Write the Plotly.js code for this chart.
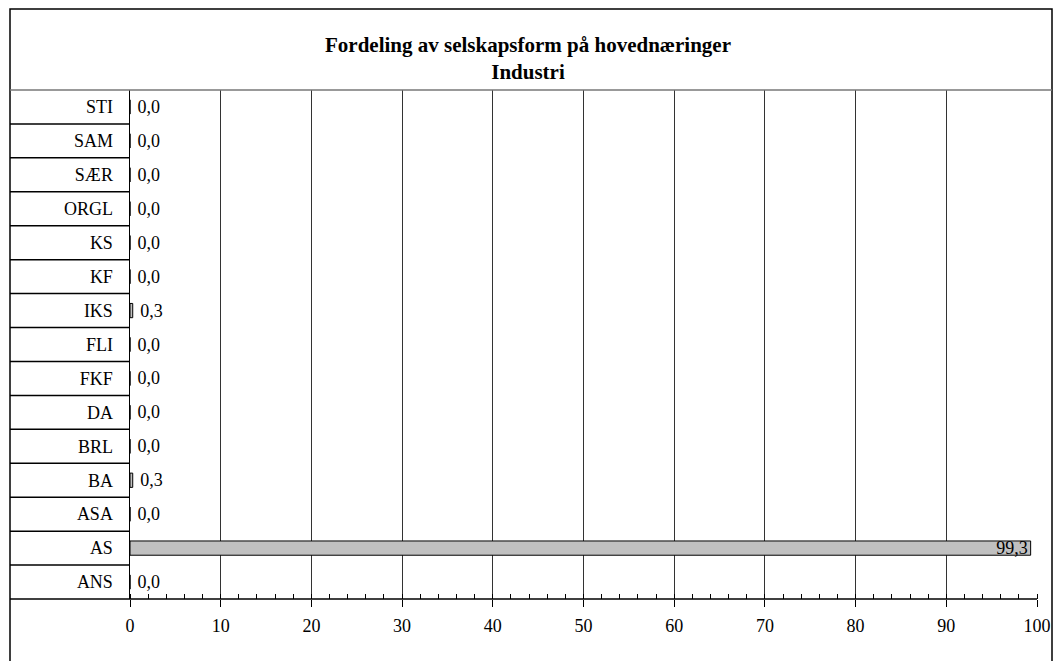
<!DOCTYPE html>
<html><head><meta charset="utf-8">
<script src="https://cdn.plot.ly/plotly-3.0.1.min.js"></script>
<style>html,body{margin:0;padding:0;background:#fff}#c{width:1056px;height:661px}</style>
</head><body><div id="c"></div>
<script>
const categories = ["ANS","AS","ASA","BA","BRL","DA","FKF","FLI","IKS","KF","KS","ORGL","SÆR","SAM","STI"];
const values = [0.0, 99.3, 0.0, 0.3, 0.0, 0.0, 0.0, 0.0, 0.3, 0.0, 0.0, 0.0, 0.0, 0.0, 0.0];
const xTicks = [0,10,20,30,40,50,60,70,80,90,100];
const titleText = "Fordeling av selskapsform på hovednæringer<br>Industri";

const L = 130, R = 1037, T = 90, B = 599;
const pw = R - L, ph = B - T;
const px = v => (v - L) / pw;
const py = v => (B - v) / ph;

const shapes = [];
shapes.push({type:'rect', xref:'paper', yref:'paper', x0:px(10), x1:px(1052), y0:py(675), y1:py(9),
  line:{color:'#000', width:1.5}, fillcolor:'rgba(0,0,0,0)', layer:'above'});
shapes.push({type:'line', xref:'paper', yref:'paper', x0:px(10), x1:px(1052), y0:1, y1:1,
  line:{color:'#777', width:1.5}});
shapes.push({type:'line', xref:'paper', yref:'paper', x0:px(10), x1:1, y0:0, y1:0,
  line:{color:'#000', width:1.5}});
for (let i = 0; i < categories.length - 1; i++) {
  shapes.push({type:'line', xref:'paper', yref:'y', x0:px(10), x1:0, y0:i+0.5, y1:i+0.5,
    line:{color:'#000', width:1.5}});
}

const trace = {
  type:'bar', orientation:'h', y:categories, x:values,
  width:0.42,
  marker:{color:'#c0c0c0', line:{color:'#000', width:1}},
  texttemplate:' %{x:.1f}',
  textposition: values.map(v => v > 90 ? 'inside' : 'outside'),
  insidetextanchor:'end',
  constraintext:'none', cliponaxis:false,
  textfont:{family:'Liberation Serif', size:18, color:'#000'},
  insidetextfont:{family:'Liberation Serif', size:18, color:'#000'},
  outsidetextfont:{family:'Liberation Serif', size:18, color:'#000'},
  hoverinfo:'skip'
};

const layout = {
  width:1056, height:661,
  margin:{l:L, r:1056-R, t:T, b:661-B, pad:0},
  paper_bgcolor:'#fff', plot_bgcolor:'#fff',
  separators:', ',
  showlegend:false,
  font:{family:'Liberation Serif', size:18, color:'#000'},
  title:{text:titleText, x:0.5, xref:'container', xanchor:'center', y:1-52/661, yanchor:'middle',
    font:{family:'Liberation Serif', size:21, color:'#000', weight:'bold'}},
  xaxis:{range:[0,100], tickvals:xTicks, ticktext:xTicks.map(String),
    showgrid:true, gridcolor:'#333', gridwidth:1, zeroline:false,
    showline:false, ticks:'outside', ticklen:7, tickcolor:'#000', tickwidth:1,
    ticklabelstandoff:3,
    minor:{dtick:2, ticks:'inside', ticklen:5, tickcolor:'#000', showgrid:false},
    tickfont:{family:'Liberation Serif', size:18, color:'#000'}, fixedrange:true},
  yaxis:{type:'category', categoryorder:'array', categoryarray:categories,
    range:[-0.5, categories.length-0.5],
    showgrid:false, zeroline:false, showline:true, linecolor:'#000', linewidth:1.5,
    ticks:'', ticklabelstandoff:12,
    tickfont:{family:'Liberation Serif', size:18, color:'#000'}, fixedrange:true},
  shapes:shapes
};

Plotly.newPlot('c', [trace], layout, {staticPlot:true});
</script>
</body></html>
